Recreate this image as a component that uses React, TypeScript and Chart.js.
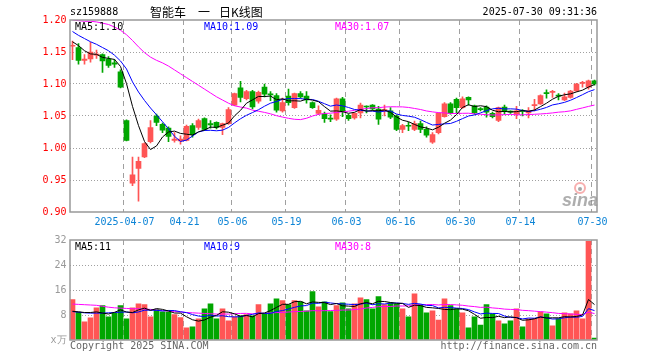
import React, { useEffect, useRef } from 'react';
import { Chart, registerables } from 'chart.js';

Chart.register(...registerables);

// ---------- data ----------
const dates = [
  '2025-03-24','2025-03-25','2025-03-26','2025-03-27','2025-03-28','2025-03-31','2025-04-01','2025-04-02','2025-04-03','2025-04-07',
  '2025-04-08','2025-04-09','2025-04-10','2025-04-11','2025-04-14','2025-04-15','2025-04-16','2025-04-17','2025-04-18','2025-04-21',
  '2025-04-22','2025-04-23','2025-04-24','2025-04-25','2025-04-28','2025-04-29','2025-04-30','2025-05-06','2025-05-07','2025-05-08',
  '2025-05-09','2025-05-12','2025-05-13','2025-05-14','2025-05-15','2025-05-16','2025-05-19','2025-05-20','2025-05-21','2025-05-22',
  '2025-05-23','2025-05-26','2025-05-27','2025-05-28','2025-05-29','2025-05-30','2025-06-03','2025-06-04','2025-06-05','2025-06-06',
  '2025-06-09','2025-06-10','2025-06-11','2025-06-12','2025-06-13','2025-06-16','2025-06-17','2025-06-18','2025-06-19','2025-06-20',
  '2025-06-23','2025-06-24','2025-06-25','2025-06-26','2025-06-27','2025-06-30','2025-07-01','2025-07-02','2025-07-03','2025-07-04',
  '2025-07-07','2025-07-08','2025-07-09','2025-07-10','2025-07-11','2025-07-14','2025-07-15','2025-07-16','2025-07-17','2025-07-18',
  '2025-07-21','2025-07-22','2025-07-23','2025-07-24','2025-07-25','2025-07-28','2025-07-29','2025-07-30',
];

const tickDates = ['2025-04-07','2025-04-21','2025-05-06','2025-05-19','2025-06-03','2025-06-16','2025-06-30','2025-07-14','2025-07-30'];
const tickTexts = ['2025-04-07','04-21','05-06','05-19','06-03','06-16','06-30','07-14','07-30'];

const opens = [
  1.159,1.157,1.137,1.139,1.145,1.146,1.139,1.133,1.119,1.043,
  0.945,0.968,0.986,1.010,1.050,1.037,1.031,1.012,1.011,1.012,
  1.035,1.032,1.046,1.038,1.040,1.032,1.038,1.067,1.094,1.077,
  1.088,1.073,1.095,1.084,1.082,1.058,1.081,1.063,1.085,1.081,
  1.071,1.054,1.053,1.046,1.045,1.077,1.051,1.047,1.055,1.065,
  1.067,1.061,1.058,1.058,1.050,1.029,1.035,1.029,1.038,1.029,
  1.009,1.024,1.049,1.069,1.076,1.063,1.079,1.066,1.061,1.064,
  1.054,1.043,1.064,1.057,1.053,1.058,1.055,1.066,1.069,1.086,
  1.087,1.082,1.075,1.079,1.089,1.101,1.095,1.105,
];
const highs = [
  1.167,1.163,1.146,1.165,1.153,1.147,1.143,1.138,1.122,1.044,
  0.986,0.986,1.008,1.043,1.053,1.039,1.033,1.024,1.019,1.036,
  1.038,1.045,1.047,1.043,1.041,1.039,1.063,1.086,1.104,1.090,
  1.090,1.089,1.100,1.088,1.085,1.078,1.092,1.086,1.088,1.088,
  1.072,1.066,1.056,1.052,1.078,1.079,1.053,1.055,1.070,1.066,
  1.068,1.065,1.067,1.063,1.052,1.037,1.040,1.042,1.042,1.033,
  1.024,1.055,1.071,1.071,1.078,1.080,1.080,1.067,1.063,1.066,
  1.056,1.064,1.067,1.058,1.065,1.060,1.063,1.076,1.083,1.091,
  1.090,1.085,1.086,1.090,1.101,1.104,1.106,1.106,
];
const lows = [
  1.138,1.131,1.131,1.134,1.140,1.118,1.126,1.126,1.094,1.011,
  0.941,0.917,0.985,1.008,1.035,1.024,1.010,1.009,1.006,1.011,
  1.017,1.029,1.027,1.031,1.030,1.021,1.037,1.066,1.072,1.075,
  1.061,1.070,1.080,1.074,1.056,1.056,1.067,1.062,1.078,1.070,
  1.062,1.052,1.040,1.041,1.043,1.049,1.043,1.045,1.047,1.055,
  1.059,1.037,1.050,1.046,1.027,1.024,1.027,1.027,1.024,1.017,
  1.007,1.022,1.048,1.053,1.055,1.062,1.067,1.053,1.058,1.048,
  1.047,1.041,1.053,1.054,1.046,1.050,1.047,1.058,1.068,1.078,
  1.079,1.075,1.074,1.078,1.088,1.095,1.092,1.098,
];
const closes = [
  1.160,1.137,1.139,1.150,1.146,1.136,1.129,1.131,1.095,1.012,
  0.958,0.979,1.007,1.032,1.040,1.028,1.018,1.014,1.014,1.034,
  1.021,1.043,1.029,1.036,1.032,1.038,1.060,1.085,1.079,1.088,
  1.064,1.087,1.084,1.083,1.059,1.071,1.071,1.085,1.080,1.075,
  1.063,1.059,1.046,1.045,1.077,1.057,1.046,1.054,1.067,1.064,
  1.061,1.045,1.060,1.048,1.029,1.035,1.034,1.038,1.029,1.020,
  1.021,1.054,1.069,1.054,1.063,1.077,1.075,1.055,1.060,1.056,
  1.049,1.063,1.058,1.056,1.058,1.057,1.058,1.068,1.082,1.085,
  1.088,1.081,1.080,1.089,1.100,1.102,1.105,1.100,
];
// volume, in units of 10,000
const volumes = [
  12.9, 8.9, 5.8, 7.1, 10.3, 11.0, 7.4, 8.5, 11.0, 6.8,
  10.3, 11.6, 11.3, 7.4, 9.7, 9.0, 9.0, 8.1, 7.2, 3.9,
  4.2, 6.8, 10.0, 11.6, 6.8, 10.0, 6.1, 7.4, 7.7, 8.1,
  7.7, 11.3, 8.4, 11.6, 13.2, 12.6, 11.3, 12.6, 12.2, 9.3,
  15.5, 10.6, 12.2, 9.1, 11.0, 11.9, 10.0, 11.6, 13.5, 12.9,
  10.0, 13.9, 11.3, 11.9, 11.6, 10.0, 7.4, 14.8, 11.3, 8.7,
  9.3, 6.4, 13.2, 11.0, 10.0, 8.7, 3.9, 7.4, 4.8, 11.3,
  8.4, 6.1, 5.2, 6.1, 10.0, 4.2, 6.8, 6.8, 9.0, 8.4,
  4.5, 6.8, 8.7, 8.4, 9.3, 6.8, 31.6, 0.6,
];

// moving-average values at the left edge (window starts before the first bar)
const ma5Lead = [1.166, 1.160, 1.152, 1.147];
const ma10Lead = [1.182, 1.176, 1.171, 1.166, 1.162, 1.157, 1.152, 1.145, 1.136];
const ma30Lead = [1.200, 1.199, 1.198, 1.198, 1.197, 1.195, 1.193, 1.189, 1.184, 1.177,
  1.168, 1.158, 1.149, 1.142, 1.137, 1.133, 1.128, 1.122, 1.116, 1.110,
  1.104, 1.098, 1.092, 1.086, 1.080, 1.075, 1.070, 1.066, 1.064];
const volMa5Lead = [9.2, 9.0, 8.8, 8.8];
const volMa10Lead = [9.1, 8.9, 8.7, 8.6, 8.6, 8.6, 8.7, 8.8, 8.9];
const volMa30Lead = [11.5, 11.4, 11.3, 11.2, 11.1, 10.8, 10.5, 10.3, 10.2, 10.1,
  10.0, 10.0, 9.9, 9.8, 9.6, 9.4, 9.3, 9.1, 9.0, 8.8,
  8.7, 8.6, 8.5, 8.4, 8.3, 8.3, 8.3, 8.4, 8.5];

const priceTicks = [0.9, 0.95, 1.0, 1.05, 1.1, 1.15, 1.2];
const volTicks = [0, 8, 16, 24, 32];

const stockCode = 'sz159888';
const titleParts = ['智能车', '一', '日K线图'];
const stampText = '2025-07-30 09:31:36';

// ---------- styles ----------
const UP = '#ff5555';
const DOWN = '#00a600';
const GRID = '#a0a0a0';
const FRAME = '#999999';
const MONO = 'DejaVu Sans Mono';
const CLEAR = 'rgba(0,0,0,0)';

function movingAverage(src: number[], n: number, lead: number[]): number[] {
  return src.map((_, i) => {
    if (i < n - 1) return lead[i];
    let s = 0;
    for (let k = i - n + 1; k <= i; k++) s += src[k];
    return s / n;
  });
}

const tickIndexSet = new Set(tickDates.map((d) => dates.indexOf(d)));

function xScale(showLabels: boolean, height: number) {
  return {
    type: 'category',
    offset: true,
    grid: {
      offset: true,
      drawTicks: false,
      lineWidth: 1,
      color: (c: any) => (tickIndexSet.has(c.index) ? GRID : CLEAR),
    },
    border: { display: false, dash: [5, 4] },
    ticks: {
      display: showLabels,
      autoSkip: false,
      maxRotation: 0,
      minRotation: 0,
      labelOffset: -2,
      padding: 4,
      color: '#0d84d6',
      font: { family: MONO, size: 10 },
      callback: (_v: any, i: number) => {
        const k = tickDates.indexOf(dates[i]);
        return k >= 0 ? tickTexts[k] : '';
      },
    },
    afterFit: (s: any) => { s.height = height; },
  };
}

export default function App() {
  const priceRef = useRef<HTMLCanvasElement>(null);
  const volRef = useRef<HTMLCanvasElement>(null);

  useEffect(() => {
    const colors = closes.map((c, i) => (c >= opens[i] ? UP : DOWN));
    const bodies = opens.map((o, i) => [o, closes[i]]);
    const wicks = lows.map((l, i) => [l, highs[i]]);
    const ma5 = movingAverage(closes, 5, ma5Lead);
    const ma10 = movingAverage(closes, 10, ma10Lead);
    const ma30 = movingAverage(closes, 30, ma30Lead);
    const vma5 = movingAverage(volumes, 5, volMa5Lead);
    const vma10 = movingAverage(volumes, 10, volMa10Lead);
    const vma30 = movingAverage(volumes, 30, volMa30Lead);
    const last = (a: number[]) => a[a.length - 1];

    const lineDs = (data: number[], color: string, order: number) => ({
      type: 'line',
      data,
      borderColor: color,
      borderWidth: 1,
      pointRadius: 0,
      tension: 0,
      fill: false,
      order,
    });

    const pricePlugin = {
      id: 'priceDecor',
      beforeDatasetsDraw(chart: any) {
        const ctx = chart.ctx;
        ctx.save();
        ctx.strokeStyle = 'rgba(240,110,110,0.55)';
        ctx.lineWidth = 2;
        ctx.beginPath();
        ctx.arc(580, 188, 5, 0, Math.PI * 2);
        ctx.stroke();
        ctx.fillStyle = 'rgba(130,130,130,0.7)';
        ctx.beginPath();
        ctx.arc(580, 189, 2, 0, Math.PI * 2);
        ctx.fill();
        ctx.font = 'italic bold 18px "Liberation Sans"';
        ctx.fillStyle = 'rgba(140,140,140,0.7)';
        ctx.textAlign = 'right';
        ctx.textBaseline = 'alphabetic';
        ctx.fillText('sina', 598, 206);
        ctx.restore();
      },
      afterDraw(chart: any) {
        const ctx = chart.ctx;
        const { top, bottom } = chart.chartArea;
        ctx.save();
        ctx.strokeStyle = FRAME;
        ctx.lineWidth = 1.5;
        ctx.strokeRect(70, top, 527, bottom - top);
        ctx.textBaseline = 'middle';
        ctx.font = `10px "${MONO}"`;
        ctx.fillStyle = '#000';
        ctx.textAlign = 'left';
        ctx.fillText(stockCode, 70, 12);
        ctx.textAlign = 'right';
        ctx.fillText(stampText, 597, 12);
        ctx.font = '12px "Noto Sans CJK SC"';
        ctx.textAlign = 'left';
        ctx.fillText(titleParts[0], 150, 12);
        ctx.fillText(titleParts[1], 198, 12);
        ctx.fillText(titleParts[2], 219, 12);
        ctx.font = `10px "${MONO}"`;
        ctx.textAlign = 'left';
        ctx.fillStyle = '#000000';
        ctx.fillText('MA5:' + last(ma5).toFixed(2), 75, 27);
        ctx.fillStyle = '#0000ff';
        ctx.fillText('MA10:' + last(ma10).toFixed(2), 204, 27);
        ctx.fillStyle = '#ff00ff';
        ctx.fillText('MA30:' + last(ma30).toFixed(2), 335, 27);
        ctx.restore();
      },
    };

    const volPlugin = {
      id: 'volDecor',
      afterDraw(chart: any) {
        const ctx = chart.ctx;
        const { top, bottom } = chart.chartArea;
        ctx.save();
        ctx.strokeStyle = FRAME;
        ctx.lineWidth = 1.5;
        ctx.strokeRect(70, top, 527, bottom - top);
        ctx.textBaseline = 'middle';
        ctx.font = `10px "${MONO}"`;
        ctx.textAlign = 'left';
        ctx.fillStyle = '#000000';
        ctx.fillText('MA5:' + Math.round(last(vma5)), 75, 17);
        ctx.fillStyle = '#0000ff';
        ctx.fillText('MA10:' + Math.round(last(vma10)), 204, 17);
        ctx.fillStyle = '#ff00ff';
        ctx.fillText('MA30:' + Math.round(last(vma30)), 335, 17);
        ctx.fillStyle = '#666666';
        ctx.fillText('Copyright 2025 SINA.COM', 70, 116);
        ctx.textAlign = 'right';
        ctx.fillText('http://finance.sina.com.cn', 597, 116);
        ctx.restore();
      },
    };

    const priceChart = new Chart(priceRef.current as HTMLCanvasElement, {
      type: 'bar',
      data: {
        labels: dates,
        datasets: [
          lineDs(ma5, '#000000', 0),
          lineDs(ma10, '#0000ff', 1),
          lineDs(ma30, '#ff00ff', 2),
          {
            type: 'bar', data: bodies, backgroundColor: colors, borderWidth: 0,
            barThickness: 5, grouped: false, minBarLength: 1, order: 3,
          },
          {
            type: 'bar', data: wicks, backgroundColor: colors, borderWidth: 0,
            barThickness: 1, grouped: false, minBarLength: 1, order: 4,
          },
        ] as any,
      },
      options: {
        animation: false,
        responsive: false,
        maintainAspectRatio: false,
        devicePixelRatio: 1,
        layout: { padding: { top: 20, right: 62.5, bottom: 0, left: 0 } },
        plugins: { legend: { display: false }, tooltip: { enabled: false } },
        events: [],
        scales: {
          x: xScale(true, 18) as any,
          y: {
            min: 0.9,
            max: 1.2,
            afterBuildTicks: (s: any) => { s.ticks = priceTicks.map((v) => ({ value: v })); },
            grid: {
              drawTicks: false,
              color: (c: any) => (c.tick && (c.tick.value <= 0.9 || c.tick.value >= 1.2) ? CLEAR : GRID),
            },
            border: { display: false, dash: [1, 2] },
            ticks: {
              padding: 3,
              color: '#ff0000',
              font: { family: MONO, size: 10 },
              callback: (v: any) => Number(v).toFixed(2),
            },
            afterFit: (s: any) => { s.width = 69.5; },
          } as any,
        },
      } as any,
      plugins: [pricePlugin],
    });

    const volChart = new Chart(volRef.current as HTMLCanvasElement, {
      type: 'bar',
      data: {
        labels: dates,
        datasets: [
          lineDs(vma5, '#000000', 0),
          lineDs(vma10, '#0000ff', 1),
          lineDs(vma30, '#ff00ff', 2),
          {
            type: 'bar', data: volumes, backgroundColor: colors, borderWidth: 0,
            barThickness: 5, grouped: false, order: 3,
          },
        ] as any,
      },
      options: {
        animation: false,
        responsive: false,
        maintainAspectRatio: false,
        devicePixelRatio: 1,
        layout: { padding: { top: 10, right: 62.5, bottom: 0, left: 0 } },
        plugins: { legend: { display: false }, tooltip: { enabled: false } },
        events: [],
        scales: {
          x: xScale(false, 20) as any,
          y: {
            min: 0,
            max: 32,
            afterBuildTicks: (s: any) => { s.ticks = volTicks.map((v) => ({ value: v })); },
            grid: {
              drawTicks: false,
              color: (c: any) => (c.tick && (c.tick.value <= 0 || c.tick.value >= 32) ? CLEAR : GRID),
            },
            border: { display: false, dash: [1, 2] },
            ticks: {
              padding: 3,
              color: '#999999',
              font: { family: MONO, size: 10 },
              callback: (v: any) => (Number(v) === 0 ? 'x万' : String(v)),
            },
            afterFit: (s: any) => { s.width = 69.5; },
          } as any,
        },
      } as any,
      plugins: [volPlugin],
    });

    return () => {
      priceChart.destroy();
      volChart.destroy();
    };
  }, []);

  return (
    <div style={{ position: 'absolute', left: 0, top: 0, width: 660, height: 360, background: '#ffffff' }}>
      <canvas ref={priceRef} width={660} height={230} style={{ position: 'absolute', left: 0, top: 0 }} />
      <canvas ref={volRef} width={660} height={130} style={{ position: 'absolute', left: 0, top: 230 }} />
    </div>
  );
}
